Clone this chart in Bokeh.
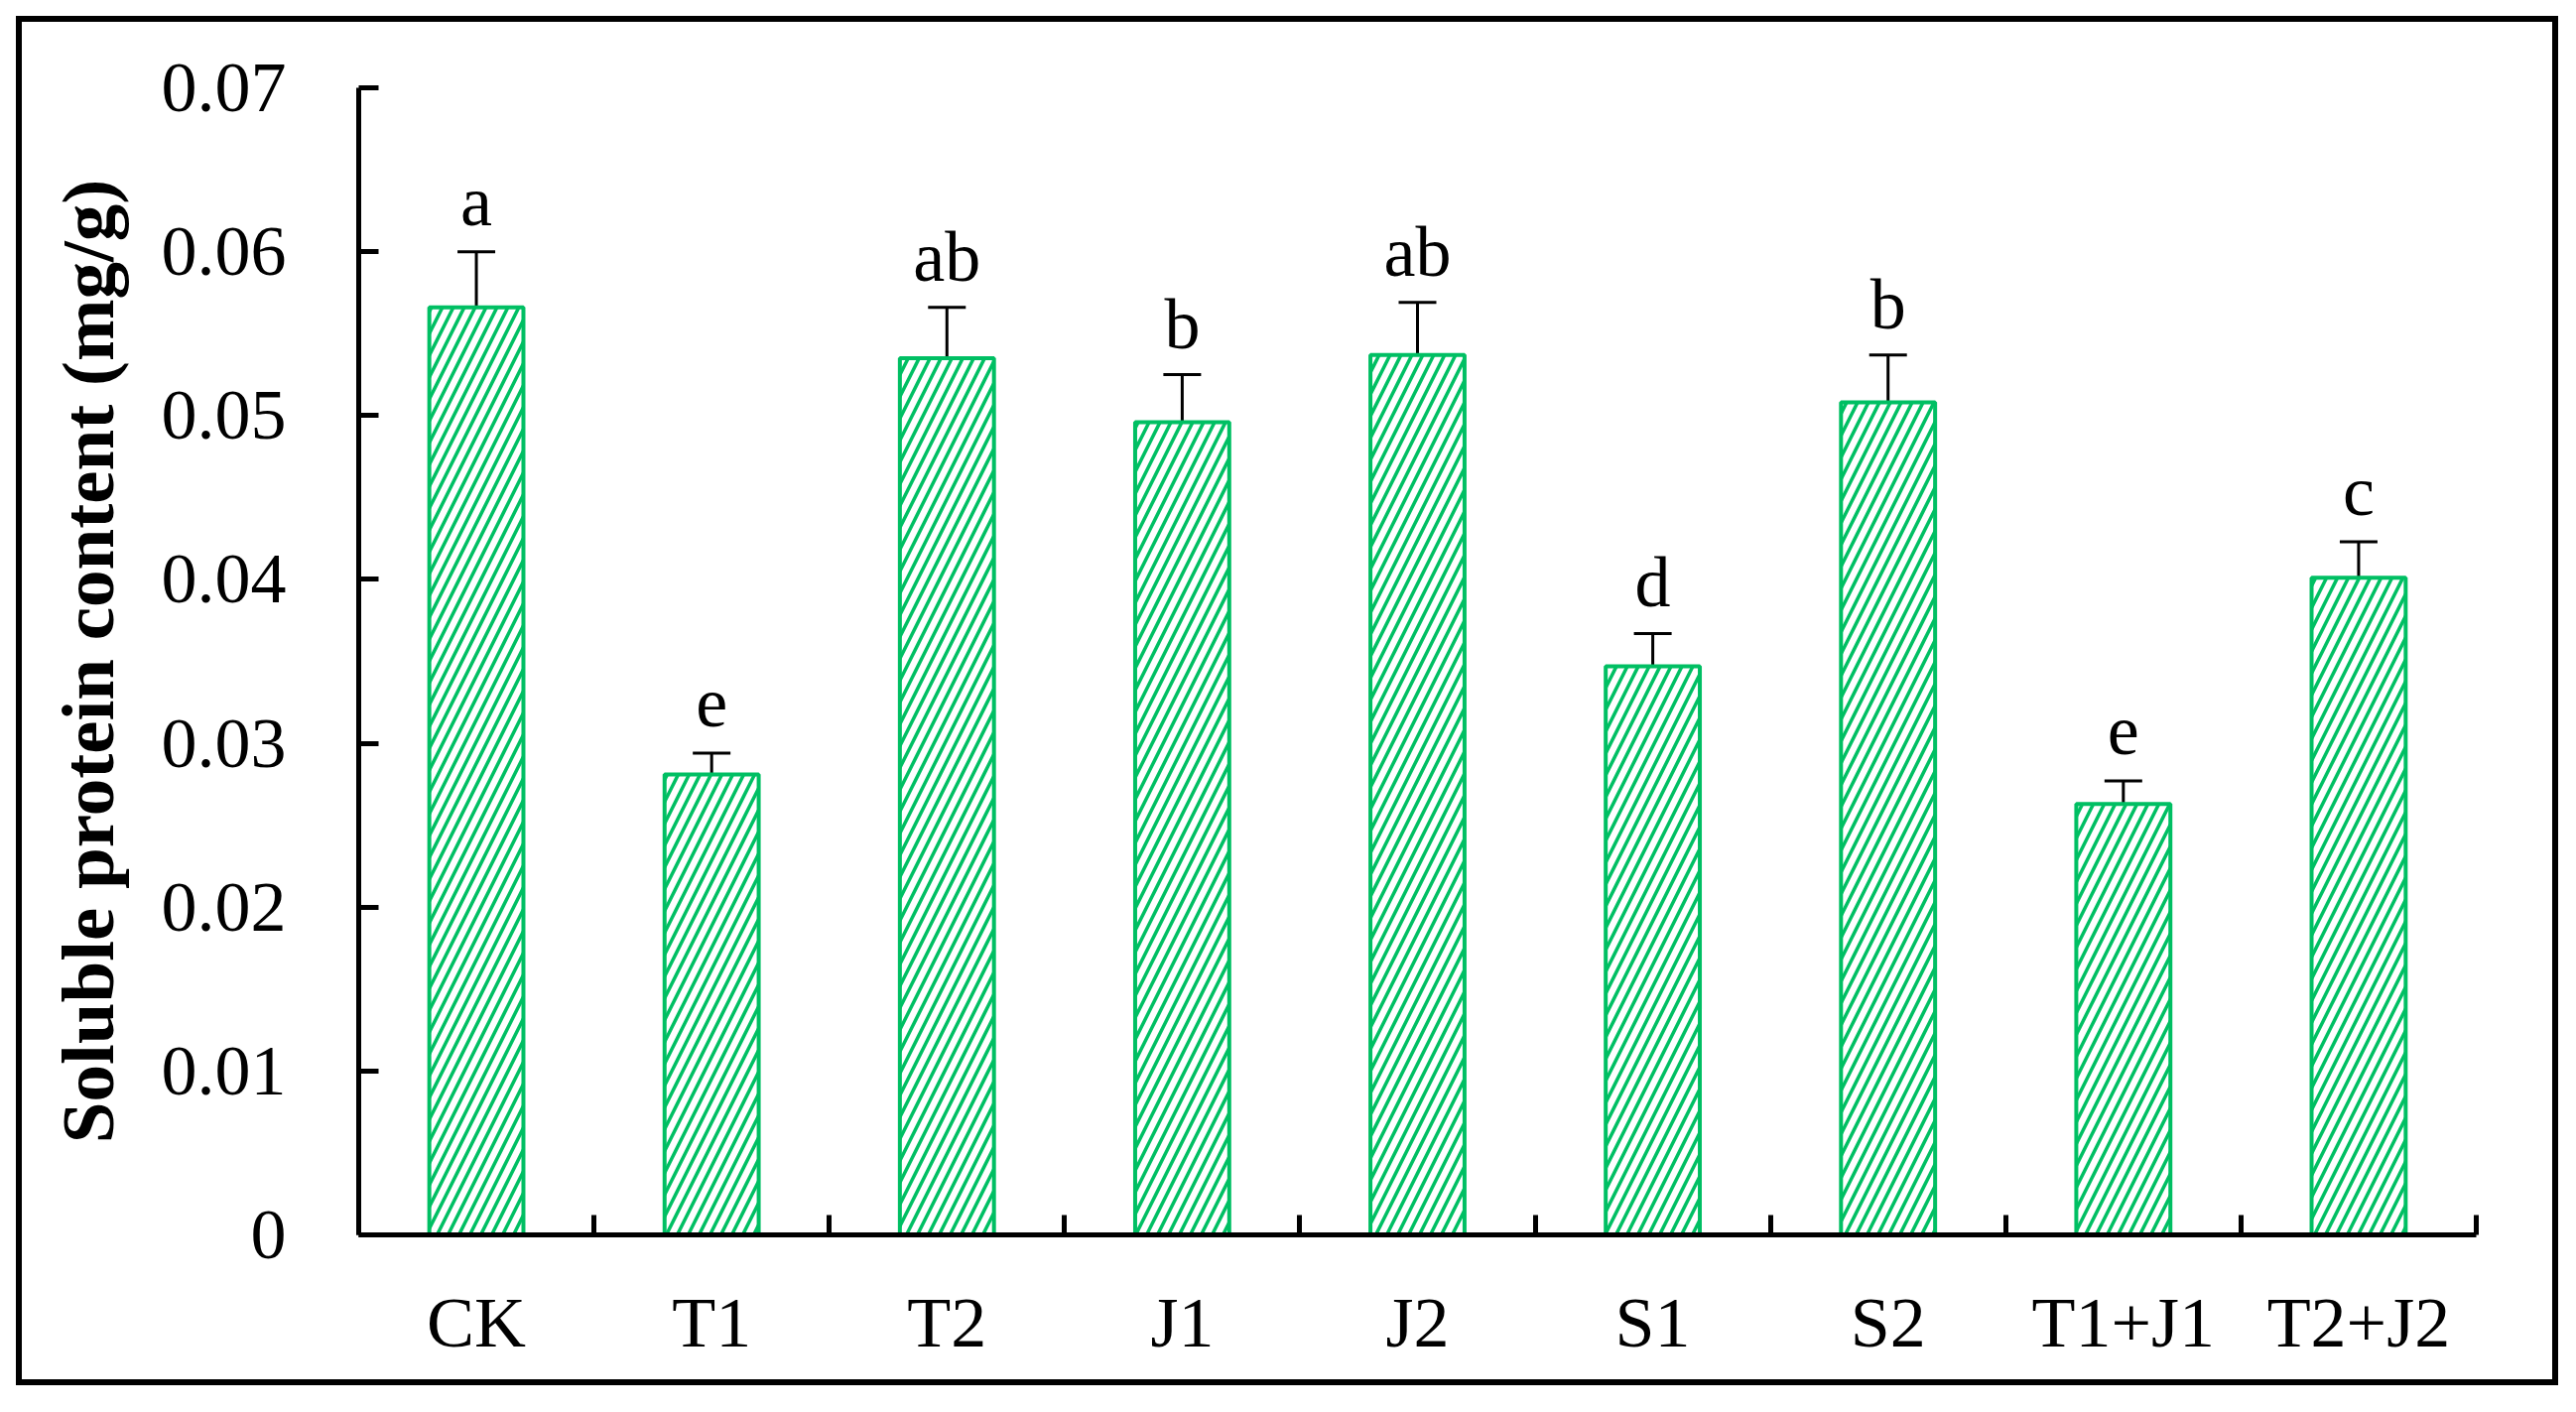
from bokeh.plotting import figure
from bokeh.models import (ColumnDataSource, Range1d, FixedTicker, NumeralTickFormatter,
                          Whisker, TeeHead, LabelSet)
from bokeh.core.properties import value
from bokeh.embed import file_html
from bokeh.resources import INLINE

# ---- data ----
categories = ["CK", "T1", "T2", "J1", "J2", "S1", "S2", "T1+J1", "T2+J2"]
means = [0.0566, 0.0281, 0.0535, 0.0496, 0.0537, 0.0347, 0.0508, 0.0263, 0.0401]
errors = [0.0034, 0.0013, 0.0031, 0.0029, 0.0032, 0.0020, 0.0029, 0.0014, 0.0022]
letters = ["a", "e", "ab", "b", "ab", "d", "b", "e", "c"]
y_ticks = [0, 0.01, 0.02, 0.03, 0.04, 0.05, 0.06, 0.07]
y_label = "Soluble protein content (mg/g)"

GREEN = "#00BF63"
FONT = "Liberation Serif"
FS = "72px"
W, H = 2562, 1380

xs = [i + 0.5 for i in range(len(categories))]
src = ColumnDataSource(dict(
    x=xs,
    y=means,
    upper=[m + e for m, e in zip(means, errors)],
    letter=letters,
))

p = figure(width=W, height=H, output_backend="svg", toolbar_location=None,
           x_range=Range1d(0, len(categories)), y_range=Range1d(y_ticks[0], y_ticks[-1]),
           min_border_left=339, min_border_right=89, min_border_top=66, min_border_bottom=158,
           styles={"border": "6px solid black", "margin": "16px 0 0 16px"})

p.outline_line_color = None
p.xgrid.visible = False
p.ygrid.visible = False
p.background_fill_color = "white"
p.border_fill_color = "white"

p.vbar(x="x", top="y", bottom=0, width=0.4, source=src,
       fill_color="white", line_color=GREEN, line_width=4,
       hatch_pattern="/", hatch_color=GREEN, hatch_scale=22, hatch_weight=3.5)

w = Whisker(source=src, base="x", lower="y", upper="upper",
            line_color="black", line_width=3,
            upper_head=TeeHead(size=38, line_color="black", line_width=3),
            lower_head=None)
p.add_layout(w)

labels = LabelSet(x="x", y="upper", text="letter", source=src,
                  text_font=value(FONT), text_font_size=FS, text_color="black",
                  text_align="center", text_baseline="alphabetic", y_offset=27)
p.add_layout(labels)

# y axis
ya = p.yaxis[0]
ya.ticker = FixedTicker(ticks=y_ticks)
ya.formatter = NumeralTickFormatter(format="0.[00]")
ya.axis_line_width = 5
ya.major_tick_in = 20
ya.major_tick_out = 0
ya.major_tick_line_width = 5
ya.minor_tick_line_color = None
ya.major_label_text_font = FONT
ya.major_label_text_font_size = FS
ya.major_label_text_color = "black"
ya.major_label_standoff = 73
ya.axis_label = y_label
ya.axis_label_text_font = FONT
ya.axis_label_text_font_size = "75px"
ya.axis_label_text_font_style = "bold"
ya.axis_label_text_color = "black"
ya.axis_label_standoff = 30

# x axis
xa = p.xaxis[0]
xa.ticker = FixedTicker(ticks=xs, minor_ticks=list(range(len(categories) + 1)))
xa.major_label_overrides = {x: c for x, c in zip(xs, categories)}
xa.axis_line_width = 5
xa.major_tick_line_color = None
xa.minor_tick_in = 20
xa.minor_tick_out = 0
xa.minor_tick_line_width = 5
xa.minor_tick_line_color = "black"
xa.major_label_text_font = FONT
xa.major_label_text_font_size = FS
xa.major_label_text_color = "black"
xa.major_label_standoff = 42

open("out.html", "w").write(file_html(p, INLINE))
